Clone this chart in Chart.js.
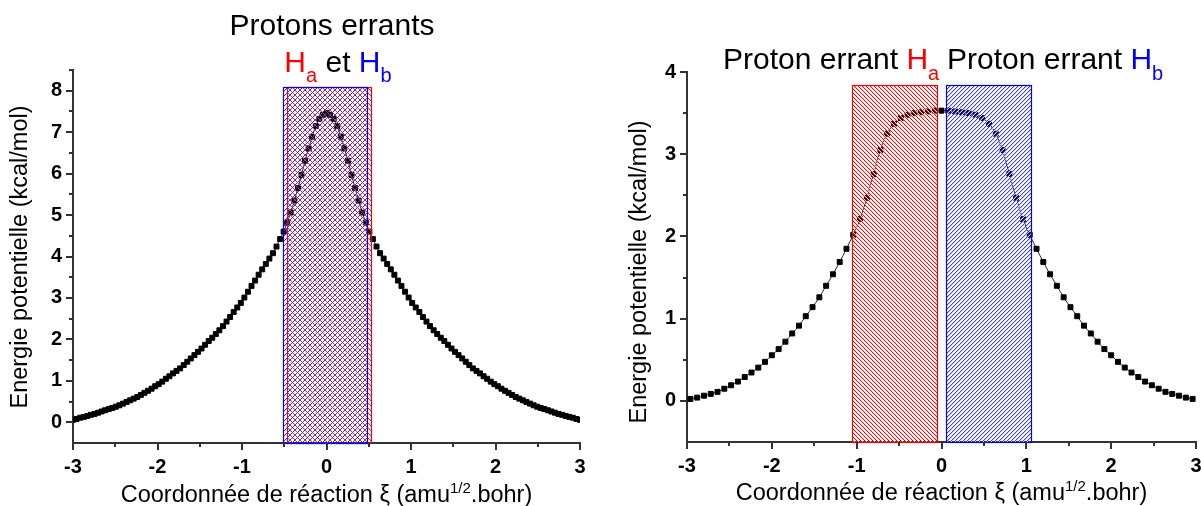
<!DOCTYPE html>
<html>
<head>
<meta charset="utf-8">
<script src="https://cdn.jsdelivr.net/npm/chart.js@4.4.0/dist/chart.umd.min.js"></script>
<style>
  body { margin: 0; background: #fff; }
  .panel { position: absolute; top: 0; }
</style>
</head>
<body>
<div class="panel" style="left:0"><canvas id="leftChart" width="600" height="506"></canvas></div>
<div class="panel" style="left:600px"><canvas id="rightChart" width="601" height="506"></canvas></div>
<script>
// ====== Profils d'énergie : protons errants ======

// ---- Données : gauche (Ha et Hb ensemble) ----
const leftXi = [
  -3.000, -2.958, -2.915, -2.873, -2.831, -2.789, -2.746, -2.704, -2.662, -2.620,
  -2.577, -2.535, -2.493, -2.451, -2.408, -2.366, -2.324, -2.282, -2.239, -2.197,
  -2.155, -2.113, -2.070, -2.028, -1.986, -1.944, -1.901, -1.859, -1.817, -1.775,
  -1.732, -1.690, -1.648, -1.606, -1.563, -1.521, -1.479, -1.437, -1.394, -1.352,
  -1.310, -1.268, -1.225, -1.183, -1.141, -1.099, -1.056, -1.014, -0.972, -0.930,
  -0.887, -0.845, -0.803, -0.761, -0.718, -0.676, -0.634, -0.592, -0.549, -0.507,
  -0.465, -0.423, -0.380, -0.338, -0.296, -0.254, -0.211, -0.169, -0.127, -0.085,
  -0.042, 0.000,
  0.042, 0.085, 0.127, 0.169, 0.211, 0.254, 0.296, 0.338, 0.380, 0.423,
  0.465, 0.507, 0.549, 0.592, 0.634, 0.676, 0.718, 0.761, 0.803, 0.845,
  0.887, 0.930, 0.972, 1.014, 1.056, 1.099, 1.141, 1.183, 1.225, 1.268,
  1.310, 1.352, 1.394, 1.437, 1.479, 1.521, 1.563, 1.606, 1.648, 1.690,
  1.732, 1.775, 1.817, 1.859, 1.901, 1.944, 1.986, 2.028, 2.070, 2.113,
  2.155, 2.197, 2.239, 2.282, 2.324, 2.366, 2.408, 2.451, 2.493, 2.535,
  2.577, 2.620, 2.662, 2.704, 2.746, 2.789, 2.831, 2.873, 2.915, 2.958,
  3.000
];
const leftEnergy = [
  0.06, 0.08, 0.11, 0.13, 0.15, 0.18, 0.20, 0.23, 0.26, 0.29,
  0.32, 0.345, 0.375, 0.41, 0.45, 0.49, 0.53, 0.57, 0.61, 0.66,
  0.71, 0.76, 0.81, 0.87, 0.92, 0.98, 1.05, 1.11, 1.18, 1.24,
  1.30, 1.38, 1.46, 1.54, 1.62, 1.70, 1.78, 1.87, 1.96, 2.04,
  2.13, 2.22, 2.32, 2.43, 2.54, 2.66, 2.77, 2.88, 3.01, 3.15,
  3.29, 3.42, 3.56, 3.69, 3.82, 3.95, 4.08, 4.24, 4.42, 4.60,
  4.82, 5.06, 5.35, 5.65, 5.97, 6.31, 6.61, 6.89, 7.15, 7.32,
  7.42, 7.46,
  7.42, 7.32, 7.15, 6.89, 6.61, 6.31, 5.97, 5.65, 5.35, 5.06,
  4.82, 4.60, 4.42, 4.24, 4.08, 3.95, 3.82, 3.69, 3.56, 3.42,
  3.29, 3.15, 3.01, 2.88, 2.77, 2.66, 2.54, 2.43, 2.32, 2.22,
  2.13, 2.04, 1.96, 1.87, 1.78, 1.70, 1.62, 1.54, 1.46, 1.38,
  1.30, 1.24, 1.18, 1.11, 1.05, 0.98, 0.92, 0.87, 0.81, 0.76,
  0.71, 0.66, 0.61, 0.57, 0.53, 0.49, 0.45, 0.41, 0.375, 0.345,
  0.32, 0.29, 0.26, 0.23, 0.20, 0.18, 0.15, 0.13, 0.11, 0.08,
  0.06
];

// ---- Données : droite (Ha puis Hb) ----
const rightXi = [
  -2.96, -2.88, -2.80, -2.72, -2.64, -2.56, -2.48, -2.40, -2.32, -2.24,
  -2.16, -2.08, -2.00, -1.92, -1.84, -1.76, -1.68, -1.60, -1.52, -1.44,
  -1.36, -1.28, -1.20, -1.12, -1.04, -0.96, -0.88, -0.80, -0.72, -0.64,
  -0.56, -0.48, -0.40, -0.32, -0.24, -0.16, -0.08, 0.00,
  0.08, 0.16, 0.24, 0.32, 0.40, 0.48, 0.56, 0.64, 0.72, 0.80,
  0.88, 0.96, 1.04, 1.12, 1.20, 1.28, 1.36, 1.44, 1.52, 1.60,
  1.68, 1.76, 1.84, 1.92, 2.00, 2.08, 2.16, 2.24, 2.32, 2.40,
  2.48, 2.56, 2.64, 2.72, 2.80, 2.88, 2.96
];
const rightEnergy = [
  0.024, 0.04, 0.063, 0.085, 0.11, 0.148, 0.19, 0.235, 0.29, 0.345,
  0.405, 0.475, 0.555, 0.63, 0.72, 0.82, 0.915, 1.03, 1.14, 1.26,
  1.40, 1.54, 1.69, 1.85, 2.02, 2.21, 2.47, 2.76, 3.05, 3.25,
  3.37, 3.44, 3.48, 3.50, 3.51, 3.52, 3.53, 3.53,
  3.53, 3.52, 3.51, 3.50, 3.48, 3.44, 3.37, 3.25, 3.05, 2.76,
  2.47, 2.21, 2.02, 1.85, 1.69, 1.54, 1.40, 1.26, 1.14, 1.03,
  0.915, 0.82, 0.72, 0.63, 0.555, 0.475, 0.405, 0.345, 0.29, 0.235,
  0.19, 0.148, 0.11, 0.085, 0.063, 0.04, 0.024
];

// ---- Zones hachurées : [début, fin, haut] en unités des axes ----
const leftZoneHa = [-0.47, 0.53, 8.1];
const leftZoneHb = [-0.52, 0.48, 8.1];
const rightZoneHa = [-1.05, -0.05, 3.84];
const rightZoneHb = [0.05, 1.05, 3.84];

// ---- Axes ----
const xRange = [-3, 3];
const leftYRange = [-0.5, 8.5];
const rightYRange = [-0.5, 4];

const FONT = '"Liberation Sans", Arial, sans-serif';
const RED = '#ff0000';
const BLUE = '#0000ff';
const font = (size, bold) => (bold ? 'bold ' : '') + size + 'px ' + FONT;

// ---- Texte composé (indices / exposants) ----
function runsWidth(ctx, runs) {
  let w = 0;
  runs.forEach(r => { ctx.font = font(r.size, r.bold); w += ctx.measureText(r.text).width; });
  return w;
}
function drawRuns(ctx, runs, x, y, center) {
  if (center) x -= runsWidth(ctx, runs) / 2;
  ctx.textAlign = 'left';
  ctx.textBaseline = 'alphabetic';
  runs.forEach(r => {
    ctx.font = font(r.size, r.bold);
    ctx.fillStyle = r.color || '#000';
    ctx.fillText(r.text, x, y + (r.dy || 0));
    x += ctx.measureText(r.text).width;
  });
}

// hachures : une ligne nette + un liseré plus clair à côté
function hatch(ctx, z) {
  const s = z.gap;
  const c = document.createElement('canvas');
  c.width = c.height = s;
  const g = c.getContext('2d');
  for (let i = 0; i < s; i++) {
    const px = z.dir === '/' ? s - 1 - i : i;
    if (z.halo) {
      g.fillStyle = z.halo;
      g.fillRect((px + 1) % s, i, 1, 1);
    }
    g.fillStyle = z.hatch;
    g.fillRect(px, i, 1, 1);
  }
  return ctx.createPattern(c, 'repeat');
}

const xTitle = [
  { text: 'Coordonnée de réaction ξ (amu', size: 23.5 },
  { text: '1/2', size: 15, dy: -9 },
  { text: '.bohr)', size: 23.5 }
];
const yTitle = 'Energie potentielle (kcal/mol)';

// ---- Plugin : zones, graduations, titres ----
const decor = {
  id: 'decor',
  afterDatasetsDraw(chart, args, o) {
    const { ctx, scales: { x, y } } = chart;
    o.zones.forEach(z => {
      const l = Math.round(x.getPixelForValue(z.range[0]));
      const r = Math.round(x.getPixelForValue(z.range[1]));
      const t = Math.round(y.getPixelForValue(z.range[2]));
      const b = Math.round(y.getPixelForValue(y.min));
      ctx.save();
      ctx.fillStyle = hatch(ctx, z);
      ctx.fillRect(l, t, r - l, b - t);
      ctx.strokeStyle = z.color;
      ctx.lineWidth = 1.2;
      ctx.strokeRect(l + 0.5, t + 0.5, r - l, b - t);
      ctx.restore();
    });
  },
  afterDraw(chart, args, o) {
    const { ctx, chartArea: a, scales: { x, y } } = chart;
    ctx.save();
    ctx.strokeStyle = '#333';
    ctx.lineWidth = 2;
    ctx.beginPath();
    x.ticks.forEach(t => {
      const px = Math.round(x.getPixelForValue(t.value));
      const len = Number.isInteger(t.value) ? 7 : 4;
      ctx.moveTo(px, a.bottom); ctx.lineTo(px, a.bottom + len);
    });
    y.ticks.forEach(t => {
      if (t.value <= y.min) return;
      const py = Math.round(y.getPixelForValue(t.value));
      const len = Number.isInteger(t.value) ? 7 : 4;
      ctx.moveTo(a.left, py); ctx.lineTo(a.left - len, py);
    });
    ctx.stroke();

    o.titles.forEach(t => drawRuns(ctx, t.runs, t.x, t.y, t.center));
    drawRuns(ctx, xTitle, (a.left + a.right) / 2, o.xTitleY, true);

    ctx.translate(o.yTitleX, o.yTitleY);
    ctx.rotate(-Math.PI / 2);
    ctx.font = font(23.5);
    ctx.fillStyle = '#000';
    ctx.textAlign = 'center';
    ctx.textBaseline = 'middle';
    ctx.fillText(yTitle, 0, 0);
    ctx.restore();
  }
};

const tickFont = { family: FONT, size: 20, weight: 'bold' };
const intLabel = v => (Number.isInteger(v) ? v : '');

function makeChart(id, xs, ys, yRange, box, decorOpts) {
  const ctx = document.getElementById(id).getContext('2d');
  return new Chart(ctx, {
    type: 'line',
    data: {
      datasets: [{
        data: xs.map((v, i) => ({ x: v, y: ys[i] })),
        borderColor: 'rgba(0,0,0,0.85)',
        borderWidth: 1,
        tension: 0.3,
        pointStyle: 'rect',
        pointRadius: 3.5,
        pointBackgroundColor: '#000',
        pointBorderColor: '#000',
        pointBorderWidth: 1,
        fill: false,
      }],
    },
    options: {
      responsive: false,
      animation: false,
      events: [],
      layout: { padding: box.padding },
      plugins: { legend: { display: false }, tooltip: { enabled: false }, decor: decorOpts },
      scales: {
        x: {
          type: 'linear',
          min: xRange[0],
          max: xRange[1],
          ticks: { stepSize: 0.5, callback: intLabel, font: tickFont, color: '#000', maxRotation: 0, autoSkip: false, padding: 5 },
          grid: { drawOnChartArea: false, tickLength: 7, color: 'rgba(0,0,0,0)', tickColor: 'rgba(0,0,0,0)' },
          border: { color: '#333', width: 2 },
          afterFit: s => { s.height = box.xHeight; s.paddingLeft = 0; s.paddingRight = 0; },
        },
        y: {
          min: yRange[0],
          max: yRange[1],
          ticks: { stepSize: 0.5, callback: intLabel, font: tickFont, color: '#000', autoSkip: false, padding: 4 },
          grid: { drawOnChartArea: false, tickLength: 7, color: 'rgba(0,0,0,0)', tickColor: 'rgba(0,0,0,0)' },
          border: { color: '#333', width: 2 },
          afterFit: s => { s.width = box.yWidth; },
        },
      },
    },
    plugins: [decor],
  });
}

window.addEventListener('DOMContentLoaded', () => {
  makeChart('leftChart', leftXi, leftEnergy, leftYRange,
    { padding: { top: 70, right: 20, left: 0, bottom: 0 }, xHeight: 63, yWidth: 73 },
    {
      zones: [
        { range: leftZoneHa, color: RED, hatch: '#ff2020', dir: '\\', gap: 5 },
        { range: leftZoneHb, color: BLUE, hatch: '#3030ff', dir: '/', gap: 5 },
      ],
      titles: [
        { runs: [{ text: 'Protons errants', size: 30 }], x: 332, y: 35, center: true },
        { runs: [
            { text: 'H', size: 30, color: RED }, { text: 'a', size: 20, color: RED, dy: 10 },
            { text: ' et ', size: 30 },
            { text: 'H', size: 30, color: BLUE }, { text: 'b', size: 20, color: BLUE, dy: 10 },
          ], x: 338, y: 72, center: true },
      ],
      xTitleY: 502, yTitleX: 21, yTitleY: 257,
    });

  makeChart('rightChart', rightXi, rightEnergy, rightYRange,
    { padding: { top: 72, right: 4, left: 0, bottom: 0 }, xHeight: 64, yWidth: 87 },
    {
      zones: [
        { range: rightZoneHa, color: RED, hatch: '#ff0000', halo: '#ffd4d4', dir: '\\', gap: 4 },
        { range: rightZoneHb, color: BLUE, hatch: '#3838ff', halo: '#cfcfff', dir: '/', gap: 4 },
      ],
      titles: [
        { runs: [{ text: 'Proton errant ', size: 30 }, { text: 'H', size: 30, color: RED },
                 { text: 'a', size: 20, color: RED, dy: 11 }], x: 123, y: 68.5 },
        { runs: [{ text: 'Proton errant ', size: 30 }, { text: 'H', size: 30, color: BLUE },
                 { text: 'b', size: 20, color: BLUE, dy: 11 }], x: 347, y: 68.5 },
      ],
      xTitleY: 500, yTitleX: 40, yTitleY: 272,
    });
});
</script>
</body>
</html>
